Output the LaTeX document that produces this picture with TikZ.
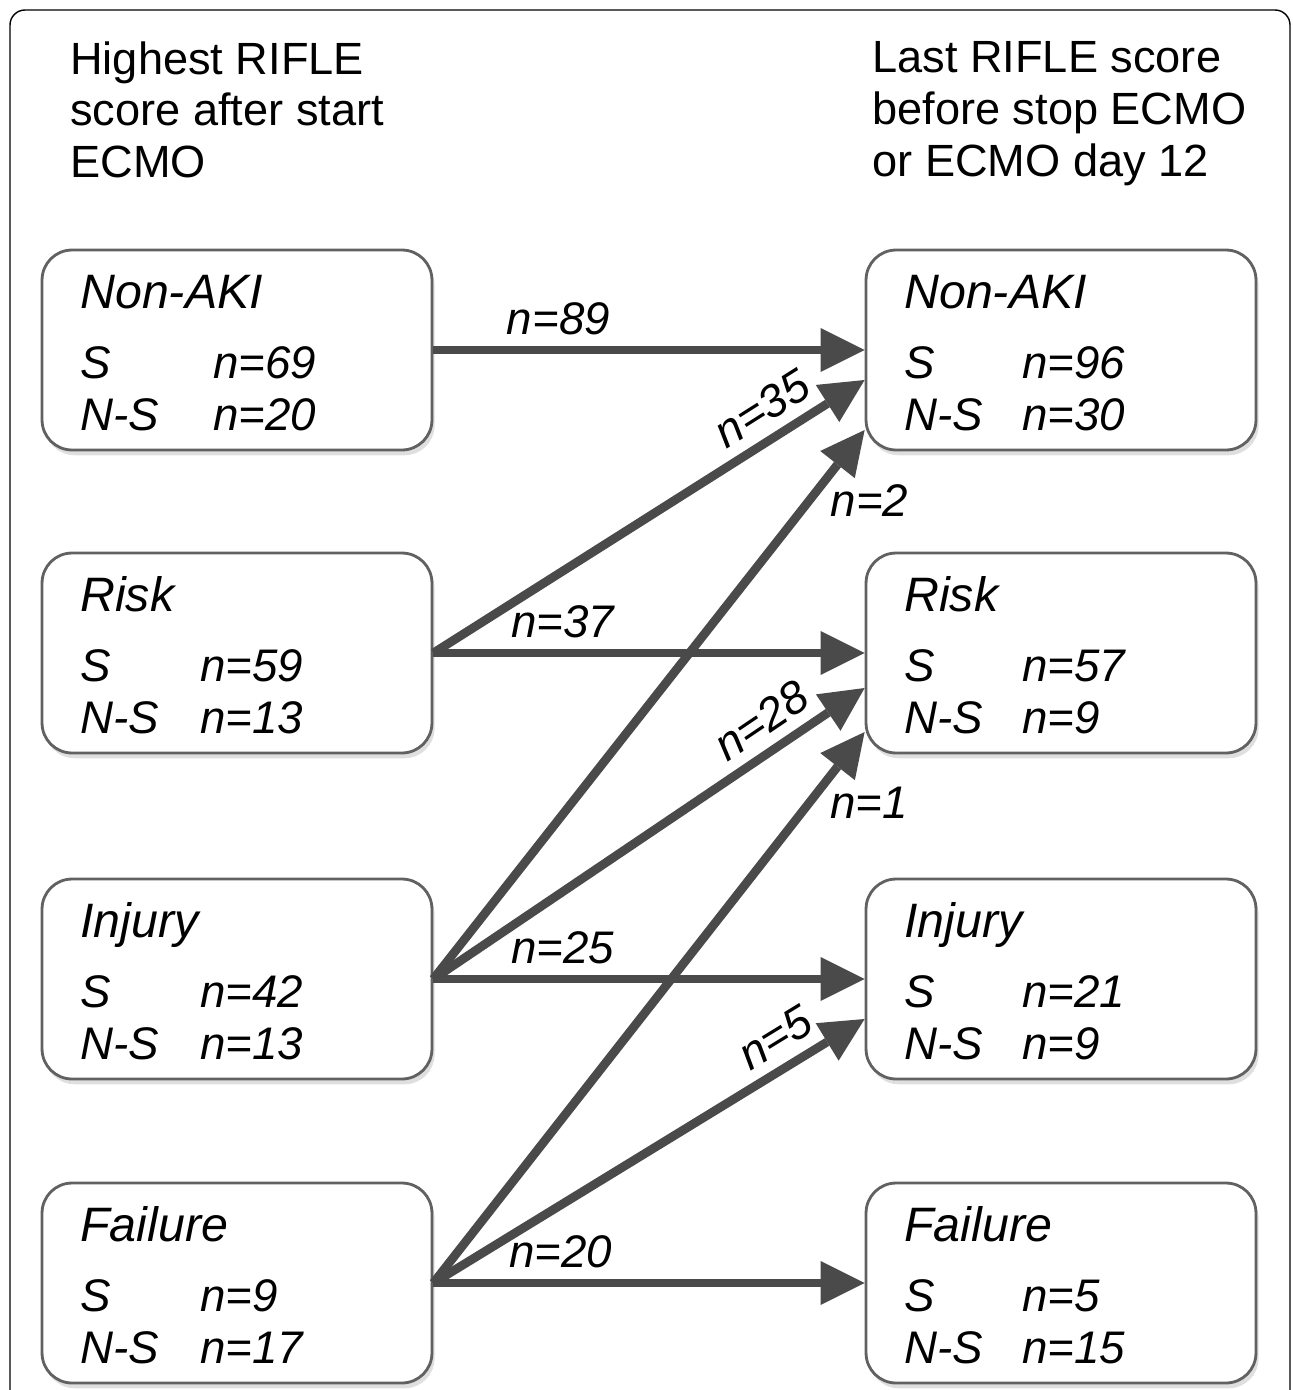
\documentclass[tikz,border=0pt]{standalone}
\usepackage{fontspec}
\setmainfont{Liberation Sans}
\usetikzlibrary{arrows.meta,calc,shadows}

\tikzset{
  scorebox/.style={draw=black!62, line width=1.6pt, fill=white, rounded corners=0.6cm,
    minimum width=7.8cm, minimum height=4cm, inner sep=0,
    drop shadow={shadow xshift=1.5pt, shadow yshift=-3pt, opacity=0.25}},
  boxtext/.style={anchor=base west, inner sep=0, font=\fontsize{26}{30}\selectfont\itshape},
  boxtitle/.style={boxtext, font=\fontsize{27.5}{30}\selectfont\itshape},
  flow/.style={draw=black!71, line width=5pt,
    -{Triangle[length=25pt, width=25pt, line width=0pt]}},
  flowlabel/.style={font=\fontsize{26}{30}\selectfont\itshape, inner sep=2pt},
  header/.style={anchor=north west, inner sep=0, align=left,
    font=\fontsize{25.7}{29.5}\selectfont}
}

\begin{document}
\begin{tikzpicture}[x=0.02cm, y=-0.02cm]
		\useasboundingbox (0,0) rectangle (1292,1390);
		
		%%%%% FRAME AND HEADERS %%%%%
		\draw[line width=0.8pt, rounded corners=0.3cm] (10,1400) -- (10,10) -- (1290,10) -- (1290,1400);
		
		\node[header] (hleft) at (70,41) {Highest RIFLE\\score after start\\ECMO};
		\node[header] (hright) at (872,41) {Last RIFLE score\\before stop ECMO\\or ECMO day 12};
		
		%%%%% BOXES %%%%%
		\foreach \nm/\x/\y/\tab/\title/\s/\ns in {
			Lnon/237/350/2.66/Non-AKI/69/20, Lrisk/237/653/2.4/Risk/59/13,
			Linj/237/979/2.4/Injury/42/13, Lfail/237/1283/2.4/Failure/9/17,
			Rnon/1061/350/2.36/Non-AKI/96/30, Rrisk/1061/653/2.36/Risk/57/9,
			Rinj/1061/979/2.36/Injury/21/9, Rfail/1061/1283/2.36/Failure/5/15}{
			\node[scorebox] (\nm) at (\x,\y) {};
			\node[boxtitle] (\nm-title) at ($(\nm.center)+(-157,-42)$) {\title};
			\node[boxtext] (\nm-s) at ($(\nm.center)+(-157,28)$) {\makebox[\tab cm][l]{S}n=\s};
			\node[boxtext] (\nm-ns) at ($(\nm.center)+(-157,80)$) {\makebox[\tab cm][l]{N-S}n=\ns};
		}
		
		%%%%% FLOWS %%%%%
		\draw[flow] (Lnon.east) -- node[flowlabel, pos=0.29, above=4pt] (l89) {n=89} (Rnon.west);
		
		\draw[flow] (Lrisk.east) -- node[flowlabel, pos=0.8, sloped, above=4pt] (l35) {n=35} ($(Rnon.west)+(0,30)$);
		\draw[flow] (Lrisk.east) -- node[flowlabel, pos=0.3, above=4pt] (l37) {n=37} (Rrisk.west);
		
		\draw[flow] (Linj.east) -- node[flowlabel, pos=0.915, anchor=north west, xshift=-3pt] (l2) {n=2} ($(Rnon.west)+(0,80)$);
		\draw[flow] (Linj.east) -- node[flowlabel, pos=0.8, sloped, above=4pt] (l28) {n=28} ($(Rrisk.west)+(0,35)$);
		\draw[flow] (Linj.east) -- node[flowlabel, pos=0.3, above=4pt] (l25) {n=25} (Rinj.west);
		
		\draw[flow] (Lfail.east) -- node[flowlabel, pos=0.914, anchor=north west, xshift=-3pt] (l1) {n=1} ($(Rrisk.west)+(0,79)$);
		\draw[flow] (Lfail.east) -- node[flowlabel, pos=0.83, sloped, above=4pt] (l5) {n=5} ($(Rinj.west)+(0,40)$);
		\draw[flow] (Lfail.east) -- node[flowlabel, pos=0.295, above=4pt] (l20) {n=20} (Rfail.west);
		
\end{tikzpicture}
\end{document}
